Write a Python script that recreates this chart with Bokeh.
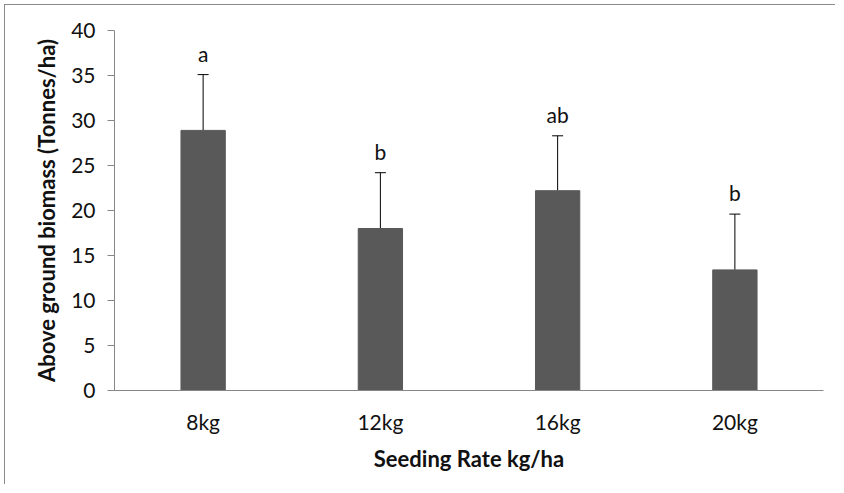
from bokeh.plotting import figure
from bokeh.models import ColumnDataSource, Whisker, TeeHead, FactorRange
from bokeh.core.properties import value
from bokeh.embed import file_html
from bokeh.resources import INLINE

categories = ["8kg", "12kg", "16kg", "20kg"]
means = [28.9, 18.0, 22.2, 13.4]
errors = [6.2, 6.2, 6.1, 6.2]
letters = ["a", "b", "ab", "b"]
y_ticks = [0, 5, 10, 15, 20, 25, 30, 35, 40]

upper = [m + e for m, e in zip(means, errors)]
src = ColumnDataSource(data=dict(cat=categories, mean=means, upper=upper, letter=letters))

p = figure(x_range=FactorRange(*categories), y_range=(0, 40),
           width=831, height=480, output_backend="svg", toolbar_location=None,
           min_border_left=109, min_border_right=13, min_border_top=25, min_border_bottom=95)
p.styles = {"margin-left": "5px", "margin-top": "5px",
            "box-shadow": "-1px -1px 0px 0px #8a8a8a"}
p.outline_line_color = None
p.xgrid.grid_line_color = None
p.ygrid.grid_line_color = None
p.x_range.range_padding = 0

p.vbar(x="cat", top="mean", bottom=0, width=0.25, source=src,
       fill_color="#595959", line_color="#595959")

w = Whisker(base="cat", lower="mean", upper="upper", source=src,
            line_color="black", line_width=1,
            upper_head=TeeHead(size=11, line_color="black", line_width=1),
            lower_head=TeeHead(size=0, line_alpha=0))
p.add_layout(w)

p.text(x="cat", y="upper", text="letter", source=src, text_align="center",
       text_baseline="bottom", y_offset=-9, text_font=value("Lato"),
       text_font_size="21px", text_color="#111111")

axis_color = "#868686"
for ax in (p.xaxis[0], p.yaxis[0]):
    ax.axis_line_color = axis_color
    ax.major_tick_line_color = axis_color
    ax.minor_tick_line_color = None
    ax.major_label_text_font = "Lato"
    ax.major_label_text_font_size = "21px"
    ax.major_label_text_color = "#111111"
    ax.axis_label_text_font = "Lato"
    ax.axis_label_text_font_style = "bold"
    ax.axis_label_text_font_size = "22px"
    ax.axis_label_text_color = "#111111"

p.yaxis.ticker = y_ticks
p.yaxis.major_tick_out = 7
p.yaxis.major_tick_in = 0
p.yaxis.major_label_standoff = 12
p.yaxis.axis_label = "Above ground biomass (Tonnes/ha)"
p.yaxis.axis_label_standoff = 8

p.xaxis.major_tick_out = 0
p.xaxis.major_tick_in = 0
p.xaxis.major_label_standoff = 18
p.xaxis.axis_label = "Seeding Rate kg/ha"
p.xaxis.axis_label_standoff = 8

open("out.html", "w").write(file_html(p, INLINE))
